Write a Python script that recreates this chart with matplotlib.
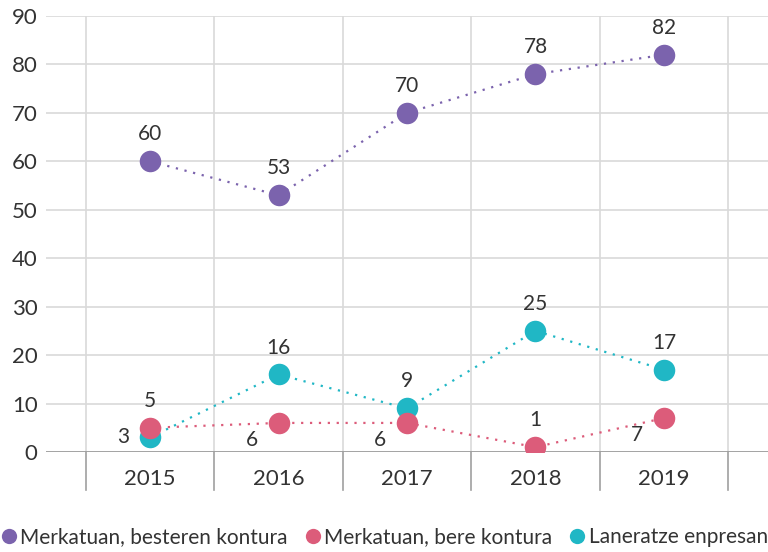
import matplotlib.pyplot as plt
from matplotlib.lines import Line2D

years = ['2015', '2016', '2017', '2018', '2019']
besteren = [60, 53, 70, 78, 82]
bere = [5, 6, 6, 1, 7]
laneratze = [3, 16, 9, 25, 17]
names = ['Merkatuan, besteren kontura', 'Merkatuan, bere kontura', 'Laneratze enpresan']
colors = ['#7b63ad', '#dc5c7a', '#20b7c5']

plt.rcParams['font.family'] = ['Lato', 'DejaVu Sans']
fig = plt.figure(figsize=(7.68, 5.52), dpi=100)
ax = fig.add_axes([46 / 768, 1 - 452 / 552, 722 / 768, 436 / 552])

x = list(range(len(years)))
for xv in [i - 0.5 for i in range(len(years) + 1)]:
    ax.axvline(xv, color='#d9d9d9', lw=1.2, zorder=0)
for yv in range(10, 91, 10):
    ax.axhline(yv, color='#d9d9d9', lw=1.2, zorder=0)
ax.axhline(0, color='#9a9a9a', lw=2, zorder=1)

series = [besteren, bere, laneratze]
order = [0, 2, 1]
for i in order:
    ax.plot(x, series[i], ls=(0, (1, 3)), lw=1.6, color=colors[i], zorder=2)
    ax.plot(x, series[i], 'o', ms=15.5, color=colors[i], zorder=3, mec='none')

fs = 15
for xi, v in zip(x, besteren):
    ax.text(xi, v + 3.5, str(v), ha='center', va='bottom', fontsize=fs, color='#333333')
for xi, v in zip(x, laneratze):
    if xi == 0:
        ax.text(xi - 0.16, v, str(v), ha='right', va='center', fontsize=fs, color='#333333')
    else:
        ax.text(xi, v + 3.5, str(v), ha='center', va='bottom', fontsize=fs, color='#333333')
for xi, v in zip(x, bere):
    if xi in (0, 3):
        ax.text(xi, v + 3.5, str(v), ha='center', va='bottom', fontsize=fs, color='#333333')
    else:
        ax.text(xi - 0.16, v - 3.5, str(v), ha='right', va='center', fontsize=fs, color='#333333')

ax.set_xlim(-0.81, 4.81)
ax.set_ylim(0, 90)
ax.set_yticks(range(0, 91, 10))
ax.set_xticks(x)
ax.set_xticklabels(years)
ax.tick_params(axis='both', length=0, labelsize=16, colors='#333333')
ax.tick_params(axis='x', pad=12)
ax.tick_params(axis='y', pad=6)
for s in ax.spines.values():
    s.set_visible(False)

# category separators below the axis
for xv in [i - 0.5 for i in range(len(years) + 1)]:
    ax.plot([xv, xv], [0, -7.9], color='#a0a0a0', lw=1.2, clip_on=False, zorder=1)

handles = [Line2D([], [], ls='none', marker='o', ms=11, color=c, mec='none') for c in colors]
fig.legend(handles, names, loc='center', bbox_to_anchor=(0.5, 1 - 537 / 552), ncol=3,
           frameon=False, fontsize=15, handletextpad=0.15, columnspacing=0.8,
           labelcolor='#333333', handlelength=0.8, borderpad=0, borderaxespad=0)

fig.savefig('out.png', dpi=100)
